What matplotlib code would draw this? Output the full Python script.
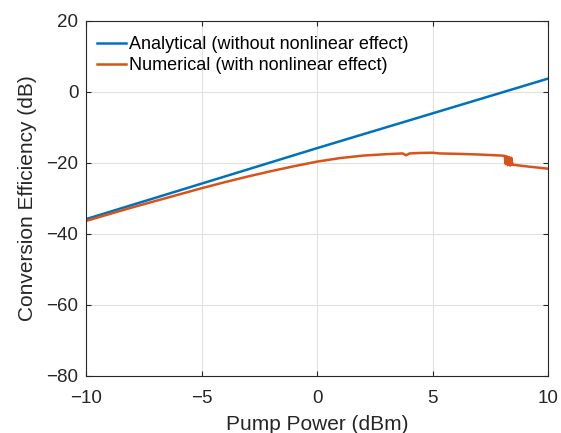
import matplotlib
matplotlib.use("Agg")
import matplotlib.pyplot as plt

# Data
x_analytical = [-10, -5, 0, 5, 10]
y_analytical = [-35.9, -25.9, -15.9, -6.1, 3.7]

x_numerical = [-10, -9, -8, -7, -6, -5, -4, -3, -2, -1, 0, 1, 2, 3, 3.7, 3.85, 4.0,
               4.5, 5.0, 5.3, 6, 7, 8, 8.12, 8.16, 8.2, 8.25, 8.3, 8.35, 8.4, 8.45,
               8.5, 9, 10]
y_numerical = [-36.4, -34.5, -32.6, -30.8, -29.0, -27.2, -25.5, -23.9, -22.4, -21.0,
               -19.7, -18.7, -18.0, -17.6, -17.4, -17.9, -17.4, -17.25, -17.2, -17.4,
               -17.5, -17.7, -18.0, -18.1, -20.4, -18.2, -20.7, -18.4, -20.8, -18.6,
               -20.6, -20.6, -21.0, -21.7]

xticks = [-10, -5, 0, 5, 10]
yticks = [-80, -60, -40, -20, 0, 20]

plt.rcParams['font.family'] = ['Liberation Sans', 'DejaVu Sans']
axc = '#262626'

fig = plt.figure(figsize=(5.61, 4.33), dpi=100)
ax = fig.add_axes([0.1533, 0.1323, 0.824, 0.820])

ax.plot(x_analytical, y_analytical, color='#0072BD', lw=1.8,
        label='Analytical (without nonlinear effect)')
ax.plot(x_numerical, y_numerical, color='#D95319', lw=1.8,
        label='Numerical (with nonlinear effect)')

ax.set_xlim(-10, 10)
ax.set_ylim(-80, 20)
ax.set_xticks(xticks)
ax.set_yticks(yticks)
ax.set_xticklabels([f"\u2212{abs(t)}" if t < 0 else str(t) for t in xticks])
ax.set_yticklabels([f"\u2212{abs(t)}" if t < 0 else str(t) for t in yticks])
ax.grid(True, color='#e0e0e0', lw=0.8)
ax.set_axisbelow(True)
ax.tick_params(direction='in', top=True, right=True, length=3.6, width=0.8,
               labelsize=13.5, colors=axc)
ax.tick_params(axis='x', pad=10.5)
ax.tick_params(axis='y', pad=5.5)
for s in ax.spines.values():
    s.set_color(axc)
    s.set_linewidth(0.8)

ax.set_xlabel('Pump Power (dBm)', fontsize=15, color=axc, labelpad=5.5)
ax.set_ylabel('Conversion Efficiency (dB)', fontsize=15, color=axc, labelpad=7)

leg = ax.legend(loc='upper left', bbox_to_anchor=(0.0238, 0.957), fontsize=13,
                frameon=False, handlelength=1.58, handletextpad=0.2,
                borderaxespad=0, borderpad=0, labelspacing=0.25)

fig.savefig('out.png', dpi=100)
